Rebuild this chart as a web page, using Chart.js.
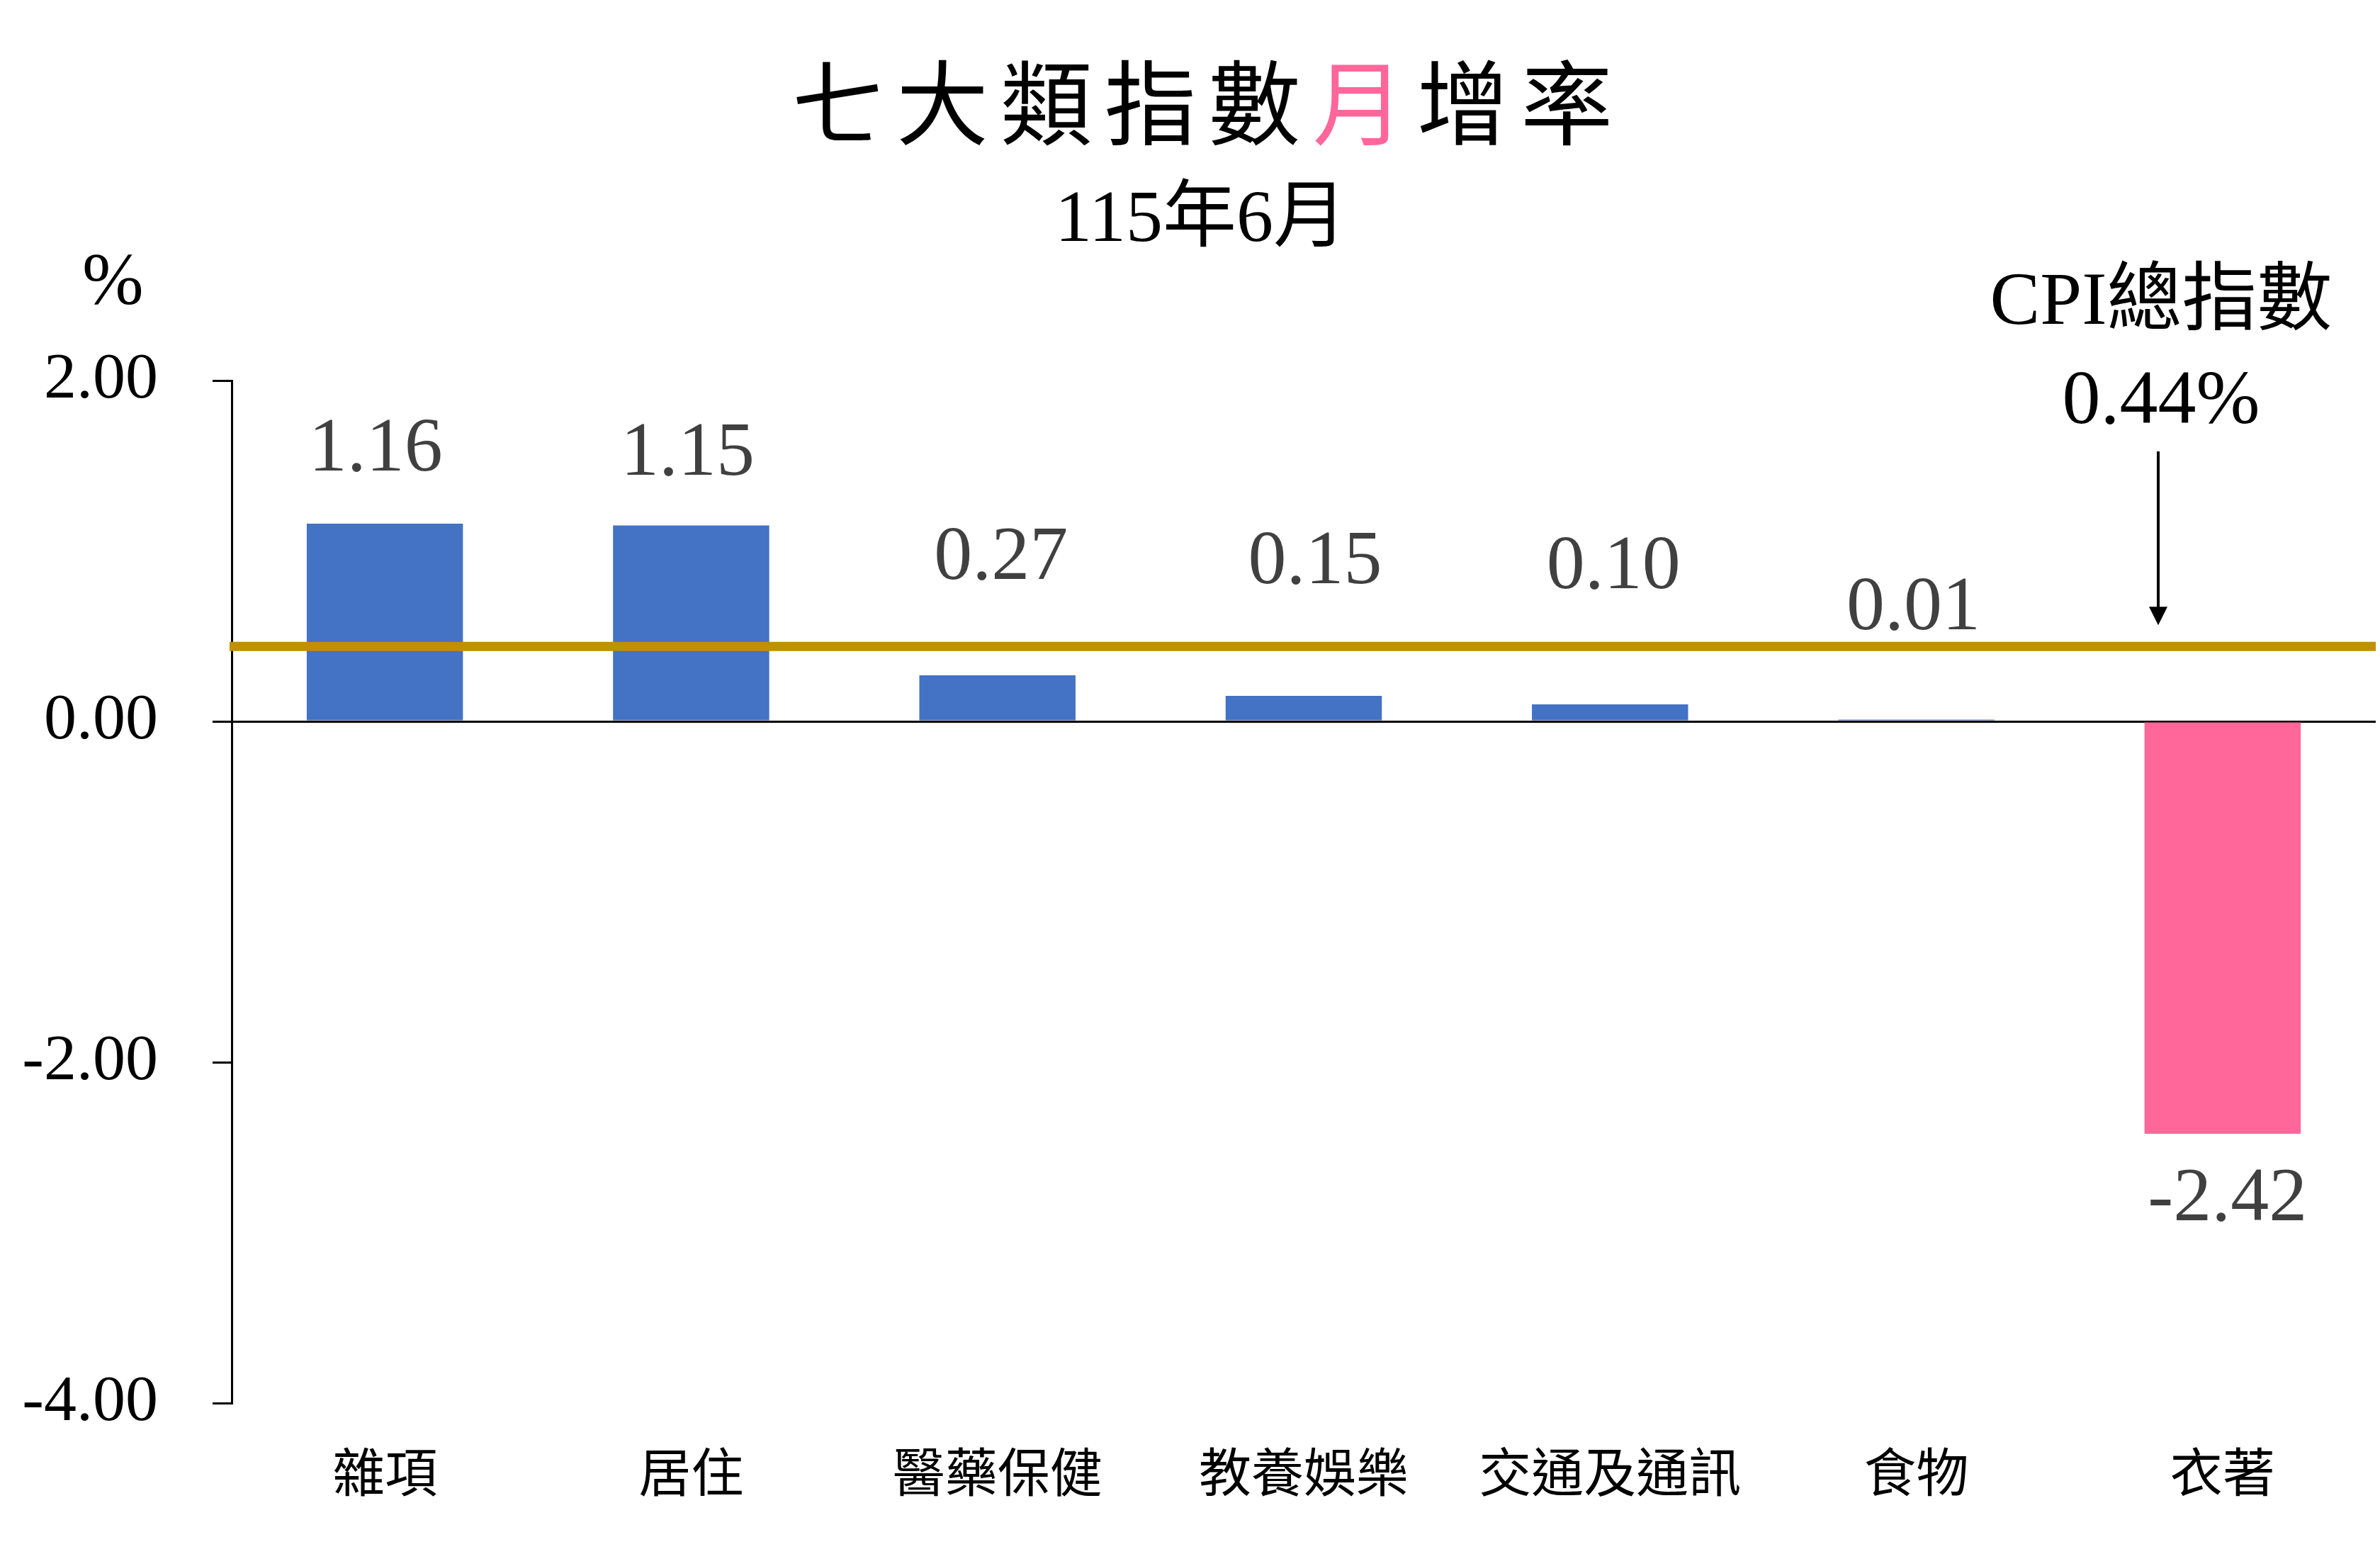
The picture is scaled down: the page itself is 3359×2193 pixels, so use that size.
<!DOCTYPE html>
<html>
<head>
<meta charset="utf-8">
<script src="https://cdn.jsdelivr.net/npm/chart.js@4"></script>
<style>
  body { margin: 0; background: #fff; }
  canvas { display: block; }
</style>
</head>
<body>
<canvas id="chart" width="3359" height="2193"></canvas>
<script>
// data
const categories = ["雜項", "居住", "醫藥保健", "教養娛樂", "交通及通訊", "食物", "衣著"];
const monthlyRate = [1.16, 1.15, 0.27, 0.15, 0.10, 0.01, -2.42];
const cpiTotal = 0.44;
const yTicks = [-4, -2, 0, 2];

const titleChars = ["七", "大", "類", "指", "數", "月", "增", "率"];
const subtitle = "115年6月";

// where the value labels sit, in px (hand-placed in the original)
const labelLift = [75, 71, 136, 159, 164, 128, 122];
const labelDx = [-13, -5, 5, 16, 5, -4, 7];

const SERIF = '"Liberation Serif", "Times New Roman", serif';
const CJK = '"Noto Sans CJK TC", "Noto Sans CJK SC", sans-serif';

// gold CPI line, drawn over the bars
const cpiLine = {
    id: "cpiLine",
    afterDatasetsDraw(chart) {
        const ctx = chart.ctx;
        const area = chart.chartArea;
        const y = chart.scales.y.getPixelForValue(cpiTotal);
        ctx.save();
        ctx.strokeStyle = "#BF9000";
        ctx.lineWidth = 13;
        ctx.beginPath();
        ctx.moveTo(area.left - 3, y);
        ctx.lineTo(area.right, y);
        ctx.stroke();

        // arrow pointing at the line
        const ax = 3046;
        const tip = y - 30;
        ctx.strokeStyle = "#000";
        ctx.fillStyle = "#000";
        ctx.lineWidth = 4;
        ctx.beginPath();
        ctx.moveTo(ax, 637);
        ctx.lineTo(ax, tip - 20);
        ctx.stroke();
        ctx.beginPath();
        ctx.moveTo(ax - 13, tip - 26);
        ctx.lineTo(ax + 13, tip - 26);
        ctx.lineTo(ax, tip);
        ctx.closePath();
        ctx.fill();

        ctx.textAlign = "center";
        ctx.textBaseline = "alphabetic";
        ctx.font = "106px " + SERIF.replace('"Liberation Serif"', '"Liberation Serif", "Noto Sans CJK TC"');
        ctx.fillText("CPI總指數", 3050, 457);
        ctx.font = "108px " + SERIF;
        ctx.fillText(cpiTotal.toFixed(2) + "%", 3050, 597);
        ctx.restore();
    }
};

// value labels
const valueLabels = {
    id: "valueLabels",
    afterDatasetsDraw(chart) {
        const ctx = chart.ctx;
        const meta = chart.getDatasetMeta(0);
        ctx.save();
        ctx.fillStyle = "#404040";
        ctx.font = "108px " + SERIF;
        ctx.textAlign = "center";
        ctx.textBaseline = "alphabetic";
        meta.data.forEach((bar, i) => {
            const v = monthlyRate[i];
            const y = v >= 0 ? bar.y - labelLift[i] : bar.y + labelLift[i];
            ctx.fillText(v.toFixed(2), bar.x + labelDx[i], y);
        });
        ctx.restore();
    }
};

// titles and unit
const titles = {
    id: "titles",
    afterDraw(chart) {
        const ctx = chart.ctx;
        ctx.save();
        ctx.textAlign = "center";
        ctx.textBaseline = "middle";
        ctx.font = "130px " + CJK;
        titleChars.forEach((ch, i) => {
            ctx.fillStyle = ch === "月" ? "#FF6699" : "#000";
            ctx.fillText(ch, 1183 + 146.9 * i, 145);
        });
        ctx.fillStyle = "#000";
        ctx.textBaseline = "alphabetic";
        ctx.font = '104px "Liberation Serif", "Noto Sans CJK TC", serif';
        ctx.fillText(subtitle, 1695, 340);
        ctx.textAlign = "left";
        ctx.font = "104px " + SERIF;
        ctx.fillText("%", 116, 429);
        ctx.restore();
    }
};

new Chart(document.getElementById("chart"), {
    type: "bar",
    data: {
        labels: categories,
        datasets: [{
            data: monthlyRate,
            backgroundColor: monthlyRate.map(v => v < 0 ? "#FF6699" : "#4472C4"),
            borderWidth: 0,
            categoryPercentage: 1,
            barPercentage: 0.51
        }]
    },
    options: {
        responsive: false,
        devicePixelRatio: 1,
        animation: false,
        layout: { padding: { top: 537, right: 6, left: 0, bottom: 0 } },
        plugins: {
            legend: { display: false },
            tooltip: { enabled: false }
        },
        scales: {
            x: {
                grid: { display: false, drawTicks: false },
                border: { display: false },
                ticks: {
                    color: "#000",
                    font: { family: CJK, size: 74 },
                    padding: 52,
                    maxRotation: 0
                },
                afterFit(scale) { scale.height = 213; }
            },
            y: {
                min: yTicks[0],
                max: yTicks[yTicks.length - 1],
                afterBuildTicks(scale) {
                    scale.ticks = yTicks.map(v => ({ value: v }));
                },
                grid: {
                    color: ctx => ctx.tick && ctx.tick.value === 0 ? "#000" : "rgba(0,0,0,0)",
                    tickColor: "#000",
                    lineWidth: 3,
                    tickLength: 27
                },
                border: { display: true, color: "#000", width: 3 },
                ticks: {
                    color: "#000",
                    font: { family: SERIF, size: 92 },
                    padding: 77,
                    callback: v => Number(v).toFixed(2)
                },
                afterFit(scale) { scale.width = 327; }
            }
        }
    },
    plugins: [cpiLine, valueLabels, titles]
});
</script>
</body>
</html>
